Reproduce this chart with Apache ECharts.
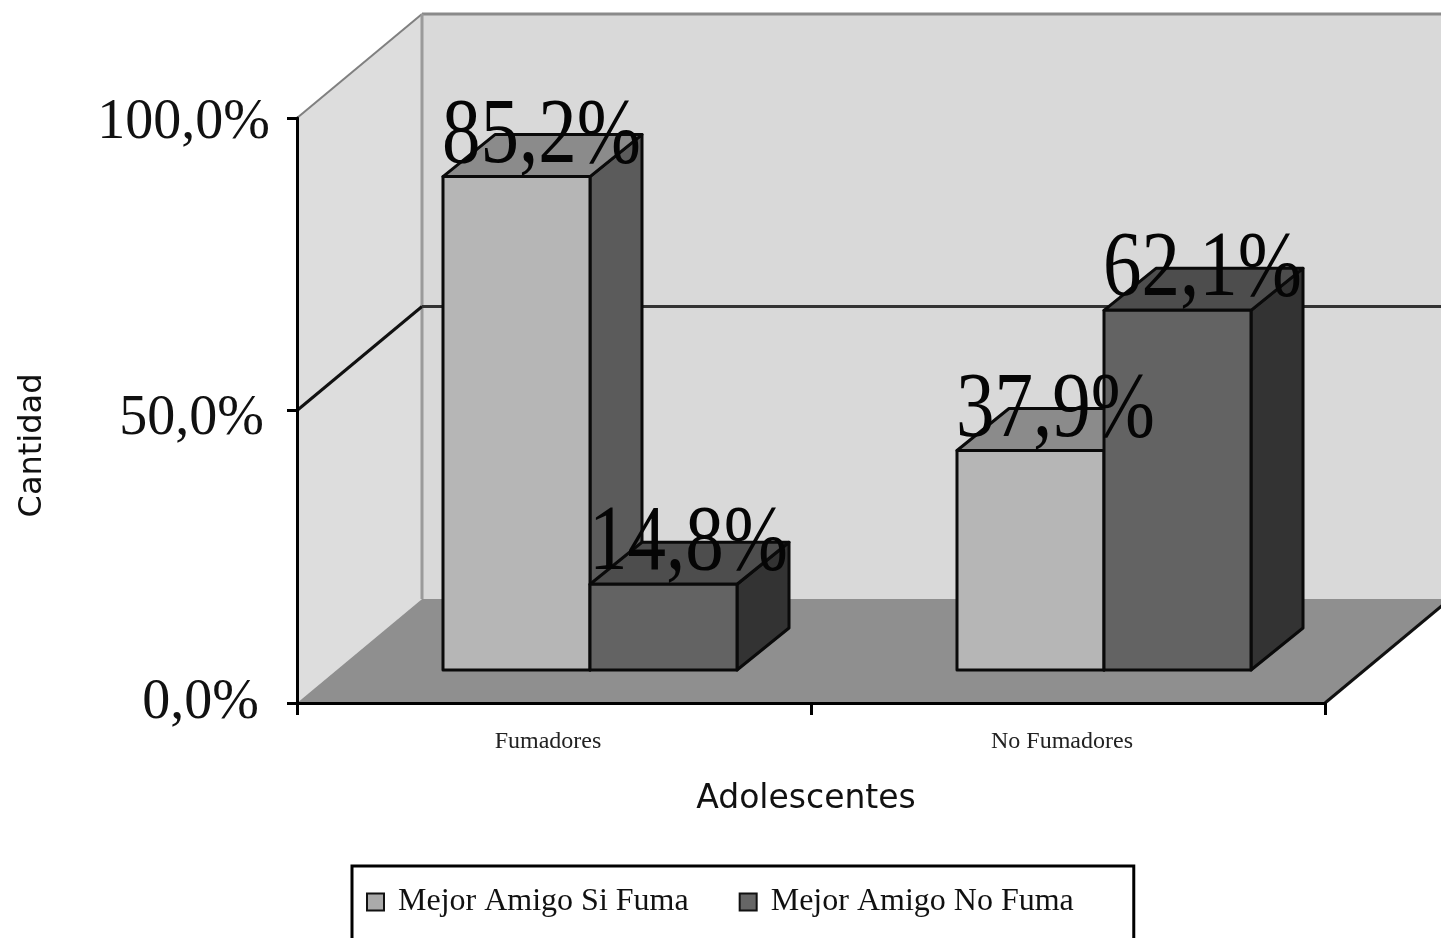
<!DOCTYPE html>
<html>
<head>
<meta charset="utf-8">
<style>html,body{margin:0;padding:0;background:#fff;overflow:hidden}#c{width:1441px;height:938px}</style>
<script src="https://cdn.jsdelivr.net/npm/echarts@6/dist/echarts.min.js"></script>
</head>
<body>
<div id="c"></div>
<script>
const categories = ['Fumadores', 'No Fumadores'];
const mejorAmigoSiFuma = [85.2, 37.9];
const mejorAmigoNoFuma = [14.8, 62.1];
const yTicks = [0, 50, 100];

const SERIF = '"Liberation Serif", serif';
const SANS = '"DejaVu Sans", sans-serif';
const fmt = v => v.toFixed(1).replace('.', ',') + '%';

// 3D projection constants
const WALL_DX = 125, WALL_DY = -104;
const BAR_DX = 36, BAR_DY = -33;
const DEPTH_DX = 52, DEPTH_DY = -42;
const BAR_BAND = 0.286, VALUE_K = 0.99;

function poly(points, fill, z2, stroke, lw) {
  return { type: 'polygon', z2: z2, shape: { points: points },
    style: { fill: fill, stroke: stroke || null, lineWidth: lw || 0, lineJoin: 'round' } };
}
function line(a, b, color, lw, z2) {
  return { type: 'line', z2: z2, shape: { x1: a[0], y1: a[1], x2: b[0], y2: b[1] },
    style: { stroke: color, lineWidth: lw } };
}

function renderWalls(params, api) {
  const cs = params.coordSys;
  const l = cs.x, r = cs.x + cs.width, t = cs.y, b = cs.y + cs.height;
  const d = (x, y) => [x + WALL_DX, y + WALL_DY];
  const children = [
    poly([[l, t], d(l, t), d(l, b), [l, b]], '#dddddd', 1),
    poly([d(l, t), d(r, t), d(r, b), d(l, b)], '#d9d9d9', 1),
    poly([[l, b], [r, b], d(r, b), d(l, b)], '#8f8f8f', 2),
    line([l, t], d(l, t), '#808080', 2, 3),
    line(d(l, t), d(r, t), '#8a8a8a', 3, 3),
    line(d(l, t), d(l, b), '#9a9a9a', 3, 3),
    line([r, b], d(r, b), '#111', 3, 3)
  ];
  yTicks.filter(v => v > 0 && v < 100).forEach(v => {
    const y = api.coord([0, v])[1];
    children.push(line([l, y], d(l, y), '#111', 3, 3));
    children.push(line(d(l, y), d(r, y), '#333', 3, 3));
  });
  return { type: 'group', children: children };
}

function barRenderer(side, front, top, dark, order) {
  return function (params, api) {
    const cat = api.value(0), val = api.value(1);
    const zero = api.coord([cat, 0]);
    const tip = api.coord([cat, val]);
    const w = api.size([1, 0])[0] * BAR_BAND;
    const base = zero[1] + BAR_DY;
    const yTop = base - (zero[1] - tip[1]) * VALUE_K;
    const join = zero[0] + BAR_DX;
    const x0 = side < 0 ? join - w : join;
    const x1 = x0 + w;
    const z = order;
    const sw = 3, sc = '#0a0a0a';
    return {
      type: 'group',
      children: [
        poly([[x1, base], [x1 + DEPTH_DX, base + DEPTH_DY], [x1 + DEPTH_DX, yTop + DEPTH_DY], [x1, yTop]], dark, z, sc, sw),
        poly([[x0, yTop], [x1, yTop], [x1 + DEPTH_DX, yTop + DEPTH_DY], [x0 + DEPTH_DX, yTop + DEPTH_DY]], top, z, sc, sw),
        poly([[x0, base], [x1, base], [x1, yTop], [x0, yTop]], front, z, sc, sw),
        { type: 'text', z2: 50, x: (x0 + x1) / 2 + 25, y: yTop + 7, scaleY: 1.2,
          style: { x: 0, y: 0, text: fmt(val), fill: '#050505',
            font: '77px ' + SERIF, textAlign: 'center', textVerticalAlign: 'bottom' } }
      ]
    };
  };
}

const toData = vals => categories.map((c, i) => [i, vals[i]]);

const chart = echarts.init(document.getElementById('c'));
chart.setOption({
  animation: false,
  backgroundColor: '#fff',
  tooltip: { show: false },
  grid: { left: 297, right: 116, top: 118, bottom: 235, containLabel: false },
  legend: {
    left: 352, top: 866,
    padding: [20, 60, 40, 14],
    itemGap: 50, itemWidth: 17, itemHeight: 17,
    icon: 'rect',
    borderColor: '#000', borderWidth: 3,
    backgroundColor: '#fff',
    selectedMode: false,
    data: ['Mejor Amigo Si Fuma', 'Mejor Amigo No Fuma'],
    textStyle: { fontFamily: SERIF, fontSize: 32, color: '#111', padding: [0, 0, 0, 9] },
    itemStyle: { borderColor: '#111', borderWidth: 2 }
  },
  xAxis: {
    type: 'category',
    data: categories,
    name: 'Adolescentes',
    nameLocation: 'middle',
    nameGap: 80,
    nameTextStyle: { fontFamily: SANS, fontSize: 33, color: '#111', padding: [0, 10, 0, 0] },
    axisLine: { show: true, lineStyle: { color: '#000', width: 3 } },
    axisTick: { show: true, length: 12, lineStyle: { color: '#000', width: 3 } },
    axisLabel: { fontFamily: SERIF, fontSize: 24, color: '#222', margin: 27, padding: [0, 12, 0, 0] },
    splitLine: { show: false }
  },
  yAxis: {
    type: 'value', min: 0, max: 100, interval: 50,
    name: 'Cantidad',
    nameLocation: 'middle',
    nameGap: 248,
    nameTextStyle: { fontFamily: SANS, fontSize: 32, color: '#111', padding: [0, 70, 0, 0] },
    axisLine: { show: true, lineStyle: { color: '#000', width: 3 } },
    axisTick: { show: true, length: 10, lineStyle: { color: '#000', width: 3 } },
    axisLabel: {
      color: '#111', margin: 27,
      formatter: v => '{t' + v + '|' + fmt(v) + '}',
      rich: {
        t100: { fontFamily: SERIF, fontSize: 56, color: '#111', padding: [10, 0, 0, 0] },
        t50: { fontFamily: SERIF, fontSize: 56, color: '#111', padding: [18, 6, 0, 0] },
        t0: { fontFamily: SERIF, fontSize: 56, color: '#111', padding: [0, 11, 0, 0] }
      }
    },
    splitLine: { show: false }
  },
  series: [
    { type: 'custom', silent: true, z: -1, clip: false, renderItem: renderWalls, data: [[0, 0]], encode: { x: 0, y: 1 } },
    { type: 'custom', name: 'Mejor Amigo Si Fuma', silent: true, z: 2, clip: false,
      itemStyle: { color: '#aaaaaa' },
      renderItem: barRenderer(-1, '#b6b6b6', '#8b8b8b', '#5b5b5b', 1),
      data: toData(mejorAmigoSiFuma), encode: { x: 0, y: 1 } },
    { type: 'custom', name: 'Mejor Amigo No Fuma', silent: true, z: 2, clip: false,
      itemStyle: { color: '#666666' },
      renderItem: barRenderer(1, '#636363', '#4d4d4d', '#333333', 2),
      data: toData(mejorAmigoNoFuma), encode: { x: 0, y: 1 } }
  ]
});
</script>
</body>
</html>
